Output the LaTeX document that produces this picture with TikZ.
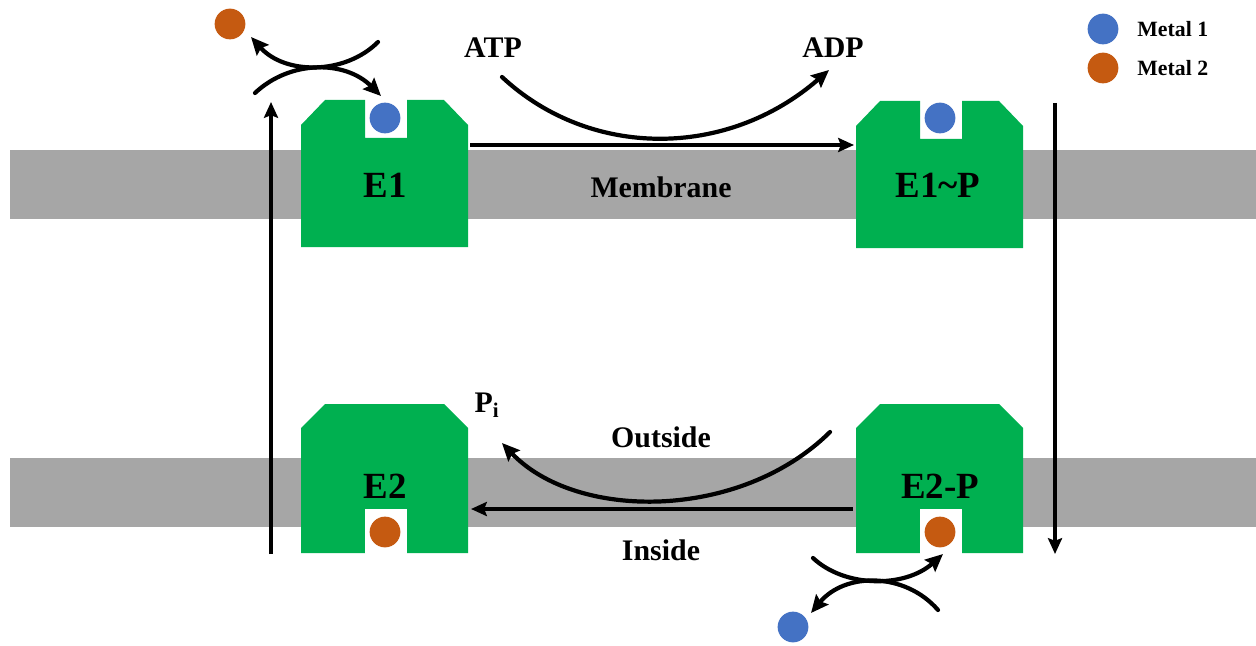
\documentclass[tikz,border=0pt]{standalone}
\usepackage{fontspec}
\setmainfont{Liberation Serif}
\usetikzlibrary{arrows.meta}
\definecolor{enzgreen}{HTML}{00B050}
\definecolor{memgray}{HTML}{A6A6A6}
\definecolor{metalblue}{HTML}{4472C4}
\definecolor{metalorange}{HTML}{C55A11}
\tikzset{
  x=0.02cm, y=-0.02cm,
  straight/.style={line width=2pt, -{Stealth[length=9pt,width=8pt,inset=1.5pt]}},
  curvy/.style={line width=2.4pt, line cap=round, -{Stealth[length=10pt,width=9pt,inset=1.5pt]}},
  enzlabel/.style={font=\bfseries\fontsize{21}{24}\selectfont, inner sep=0pt},
  txtlabel/.style={font=\bfseries\fontsize{17}{20}\selectfont, inner sep=0pt},
  legtext/.style={font=\bfseries\fontsize{12.4}{14}\selectfont, inner sep=0pt, anchor=west},
  metal/.style={circle, inner sep=0pt, minimum size=17.5pt},
  enzup/.pic={\fill[enzgreen] (0,147) -- (0,25) -- (24,0) -- (64,0) -- (64,38) -- (106,38) -- (106,0) -- (143,0) -- (167,25) -- (167,147) -- cycle;},
  enzdown/.pic={\fill[enzgreen] (0,149) -- (0,24) -- (24,0) -- (143,0) -- (167,24) -- (167,149) -- (106,149) -- (106,105) -- (64,105) -- (64,149) -- cycle;
    \fill[white] (64,105) rectangle (106,149);}
}
\begin{document}
\begin{tikzpicture}
\useasboundingbox (0,0) rectangle (1256,645);
% membranes
\fill[memgray] (10,150) rectangle (1256,219);
\fill[memgray] (10,458) rectangle (1256,527);
% enzymes
\pic at (301,100) {enzup};
\pic at (856,101) {enzup};
\pic at (301,404) {enzdown};
\pic at (856,404) {enzdown};
\node[enzlabel] (e1) at (385,185) {E1};
\node[enzlabel] (e1p) at (938,185) {E1\textasciitilde P};
\node[enzlabel] (e2) at (385,486) {E2};
\node[enzlabel] (e2p) at (940,486) {E2-P};
% bound metals
\node[metal, fill=metalblue] (b1) at (385,118) {};
\node[metal, fill=metalblue] (b2) at (940,118) {};
\node[metal, fill=metalorange] (o1) at (385,532) {};
\node[metal, fill=metalorange] (o2) at (940,532) {};
% free metals
\node[metal, fill=metalorange] (ofree) at (230,24) {};
\node[metal, fill=metalblue] (bfree) at (793,627) {};
% legend
\node[metal, fill=metalblue] (leg1) at (1103,29) {};
\node[metal, fill=metalorange] (leg2) at (1103,68) {};
\node[legtext] (leg1t) at (1137,29) {Metal 1};
\node[legtext] (leg2t) at (1137,68) {Metal 2};
% text labels
\node[txtlabel] (atp) at (493,48) {ATP};
\node[txtlabel] (adp) at (833,48) {ADP};
\node[txtlabel] (mem) at (661,187) {Membrane};
\node[txtlabel] (out) at (661,437) {Outside};
\node[txtlabel] (ins) at (661,550) {Inside};
\node[txtlabel] (pi) at (487,405) {P\textsubscript{i}};
% coordinates for connectors
\coordinate (h1s) at (470,145);
\coordinate (h1e) at (854,145);
\coordinate (h2s) at (853,509);
\coordinate (h2e) at (471,509);
\coordinate (vrs) at (1055,103);
\coordinate (vre) at (1055,554);
\coordinate (vls) at (271,554);
\coordinate (vle) at (271,102);
\coordinate (atps) at (502,77);
\coordinate (adpe) at (829,70);
\coordinate (pis) at (830,432);
\coordinate (pie) at (502,443);
\coordinate (xa1) at (378,42);
\coordinate (xa2) at (251,37);
\coordinate (xb1) at (255,93);
\coordinate (xb2) at (381,96);
\coordinate (ya1) at (813,558);
\coordinate (ya2) at (943,554);
\coordinate (yb1) at (938,610);
\coordinate (yb2) at (811,613);
% straight arrows
\draw[straight] (h1s) -- (h1e);
\draw[straight] (h2s) -- (h2e);
\draw[straight] (vrs) -- (vre);
\draw[straight] (vls) -- (vle);
% curved arrows
\draw[curvy] (atps) .. controls (590,159) and (727,159) .. (adpe);
\draw[curvy] (pis) .. controls (740,521) and (576,521) .. (pie);
\draw[curvy] (xa1) .. controls (345,75) and (285,75) .. (xa2);
\draw[curvy] (xb1) .. controls (290,60) and (345,60) .. (xb2);
\draw[curvy] (ya1) .. controls (845,588) and (905,588) .. (ya2);
\draw[curvy] (yb1) .. controls (905,572) and (845,572) .. (yb2);
\end{tikzpicture}
\end{document}
